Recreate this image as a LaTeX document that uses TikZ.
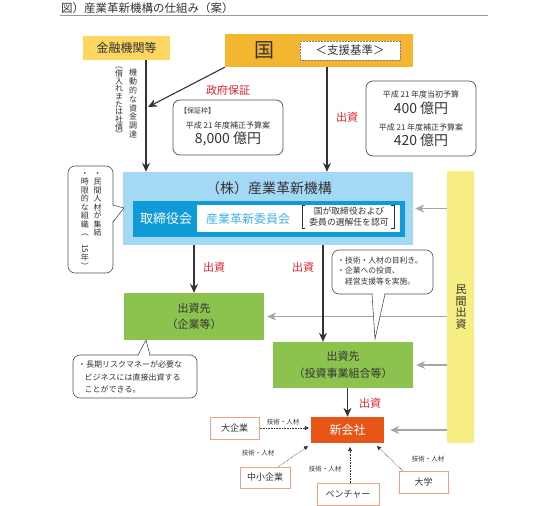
\documentclass[tikz,border=0pt]{standalone}
\usepackage{fontspec}
\setmainfont{Noto Sans CJK JP}
\usetikzlibrary{arrows.meta,calc}
\definecolor{txt}{HTML}{333333}
\definecolor{kinyuc}{HTML}{FDD561}
\definecolor{kunic}{HTML}{F4B530}
\definecolor{lblue}{HTML}{A3D9F5}
\definecolor{dblue}{HTML}{0E9BD8}
\definecolor{tblue}{HTML}{43B1E6}
\definecolor{greenc}{HTML}{8CC34F}
\definecolor{ybarc}{HTML}{F6EE82}
\definecolor{redt}{HTML}{E6212C}
\definecolor{orangec}{HTML}{E85617}
\definecolor{salmon}{HTML}{F1A184}
\definecolor{garrow}{HTML}{A6A6A6}
\newcommand\fz[2]{\fontsize{#1}{#2}\selectfont}
\tikzset{
  every node/.style={text=txt, inner sep=0pt},
  darr/.style={draw=txt, line width=1.1pt, -{Stealth[length=9pt,width=8pt]}},
  garr/.style={draw=garrow, line width=1.1pt, -{Stealth[length=9pt,width=8pt]}},
  dotarr/.style={draw=txt, densely dotted, line width=0.6pt, -{Triangle[length=4pt,width=4pt]}},
  callbox/.style={draw=txt!85, fill=white, rounded corners=7pt, line width=0.6pt},
  callline/.style={draw=txt!85, line width=0.6pt},
  redlbl/.style={text=redt, font=\fz{11}{11}},
  smallbox/.style={draw=salmon, line width=1pt, fill=white, font=\fz{9}{9}},
  greenbox/.style={fill=greenc, minimum width=140pt, align=center, font=\fz{11}{16.5}},
  infobox/.style={draw=txt!85, rounded corners=7pt, line width=0.7pt, fill=white},
  lbltiny/.style={font=\fz{6.5}{6.5}},
  vcol/.style={align=center, anchor=north, font=\fz{8}{#1}},
}
\begin{document}
\begin{tikzpicture}[x=1pt,y=-1pt]
\useasboundingbox (0,0) rectangle (550,506);

% title
\node[anchor=west, font=\fz{11.5}{11.5}] (title) at (61,8) {図）産業革新機構の仕組み（案）};
\draw[draw=gray!80, line width=0.9pt] (60,15) -- (488,15);

% top boxes
\node[fill=kinyuc, minimum width=87pt, minimum height=24pt, font=\fz{12}{12}] (kinyu) at (126.5,48) {金融機関等};
\node[fill=kunic, minimum width=188pt, minimum height=33pt] (kuni) at (319,50.5) {};
\node[font=\fz{20}{20}] (kunit) at (264,50) {国};
\node[fill=white, draw=gray, densely dotted, line width=0.5pt, minimum width=100pt, minimum height=19pt, font=\fz{11.5}{11.5}] (shien) at (350,50.5) {＜支援基準＞};

% info boxes
\node[infobox, minimum width=110pt, minimum height=55pt] (hosho) at (228,127.5) {};
\node[anchor=west, font=\fz{7}{7}] (hosho1) at (180,111) {【保証枠】};
\node[font=\fz{8}{8}] (hosho2) at (228,125) {平成 21 年度補正予算案};
\node[font=\fz{14}{14}] (hosho3) at (228,139) {8,000 億円};

\node[infobox, minimum width=110pt, minimum height=75pt] (yosan) at (421,118.5) {};
\node[font=\fz{8}{8}] (yosan1) at (421,94) {平成 21 年度当初予算};
\node[font=\fz{14}{14}] (yosan2) at (421,108) {400 億円};
\node[font=\fz{8}{8}] (yosan3) at (421,127) {平成 21 年度補正予算案};
\node[font=\fz{14}{14}] (yosan4) at (421,140) {420 億円};

% vertical text by kinyu arrow
\node[vcol=8.8] (kv1) at (133,69) {機\\動\\的\\な\\資\\金\\調\\達};
\node[vcol=7.7] (kv2) at (119,67) {︵\\借\\入\\れ\\ま\\た\\は\\社\\債\\︶};

% kabu box
\node[fill=lblue, minimum width=290pt, minimum height=73pt] (kabu) at (268,208.5) {};
\node[font=\fz{14}{14}] (kabut) at (269,188) {（株）産業革新機構};
\node[fill=dblue, minimum width=272pt, minimum height=36pt] (inner) at (269,219) {};
\node[text=white, font=\fz{13}{13}] (torishimari) at (166,218.5) {取締役会};
\node[fill=white, minimum width=203pt, minimum height=27pt] (wbox) at (298.5,218.5) {};
\node[text=tblue, font=\fz{12}{12}] (iinkai) at (248,218.5) {産業革新委員会};
\node[align=center, font=\fz{8.8}{10.5}] (bt) at (349,216.5) {国が取締役および\\委員の選解任を認可};
\draw[txt, line width=0.6pt] (305,205) -- (302,205) -- (302,228) -- (305,228);
\draw[txt, line width=0.6pt] (391,205) -- (394,205) -- (394,228) -- (391,228);

% yellow bar
\node[fill=ybarc, minimum width=27pt, minimum height=272pt] (ybar) at (460.5,307) {};
\node[align=center, font=\fz{11}{11.5}] (ybart) at (461,307) {民\\間\\出\\資};

% green boxes
\node[greenbox, minimum height=47pt] (green1) at (194,316.5) {出資先\\（企業等）};
\node[greenbox, minimum height=46pt] (green2) at (343,365) {出資先\\（投資事業組合等）};

% new company and partners
\node[fill=orangec, minimum width=73pt, minimum height=26pt, text=white, font=\fz{12}{12}] (shin) at (347.5,430) {新会社};
\node[smallbox, minimum width=49pt, minimum height=22pt] (daikigyo) at (234.5,428) {大企業};
\node[smallbox, minimum width=50pt, minimum height=21pt] (chusho) at (265,477.5) {中小企業};
\node[smallbox, minimum width=62pt, minimum height=22pt] (venture) at (348,494) {ベンチャー};
\node[smallbox, minimum width=49pt, minimum height=22pt] (daigaku) at (423.5,482) {大学};

% gray arrows from private investment
\draw[garr] (ybar.west |- kabu.east) -- ([xshift=2pt]kabu.east);
\draw[garr] (ybar.west |- green1.east) -- ([xshift=3pt]green1.east);
\draw[garr] (ybar.west |- green2.east) -- ([xshift=3pt]green2.east);
\draw[garr] (ybar.west |- shin.east) -- ([xshift=6pt]shin.east);

% dark arrows
\coordinate (g) at (148,107);
\draw[darr] ([xshift=19.5pt]kinyu.south) -- ([xshift=19.5pt]kinyu.south |- kabu.north);
\draw[darr] (kuni.south west) -- (g);
\draw[darr] ([xshift=8pt]kuni.south) -- ([xshift=8pt]kuni.south |- kabu.north);
\draw[darr] (green1.north |- kabu.south) -- (green1.north);
\draw[darr] ([xshift=-20pt]green2.north |- kabu.south) -- ([xshift=-20pt]green2.north);
\draw[darr] (green2.south -| shin.north) -- (shin.north);

% red labels
\node[redlbl] (l1) at (228,90) {政府保証};
\node[redlbl] (l2) at (347,117) {出資};
\node[redlbl] (l3) at (214,267) {出資};
\node[redlbl] (l4) at (303,267) {出資};
\node[redlbl] (l5) at (370,403) {出資};

% dotted arrows
\coordinate (c1) at (278,467);
\coordinate (c2) at (308,446);
\coordinate (c3) at (350,483);
\coordinate (c4) at (350,447);
\coordinate (c5) at (403,471);
\coordinate (c6) at (377,446);
\draw[dotarr] (daikigyo.east) -- ([xshift=-2pt]shin.west |- daikigyo.east);
\draw[dotarr] (c1) -- (c2);
\draw[dotarr] (c3) -- (c4);
\draw[dotarr] (c5) -- (c6);
\node[lbltiny] (d1) at (283,422) {技術・人材};
\node[lbltiny] (d2) at (258,453) {技術・人材};
\node[lbltiny] (d3) at (325,469) {技術・人材};
\node[lbltiny] (d4) at (428,459) {技術・人材};

% left callout
\node[callbox, minimum width=45pt, minimum height=107pt] (lc) at (90.5,219.5) {};
\fill[white] (112,205.5) -- (123.5,208) -- (112,221.5) -- cycle;
\draw[callline] (113,205) -- (124,208) -- (113,222);
\node[vcol=8.5] (lcv1) at (97.5,172) {・\\民\\間\\人\\材\\が\\集\\結};
\node[vcol=8.5] (lcv2) at (85,172) {・\\時\\限\\的\\な\\組\\織\\︵\\\rotatebox{-90}{15}\\年\\︶};

% bottom-left callout
\node[callbox, minimum width=124pt, minimum height=43pt] (bc) at (135,376.5) {};
\fill[white] (138.5,356) -- (146,340.5) -- (149.5,356) -- cycle;
\draw[callline] (138,355) -- (146,340) -- (150,355);
\node[anchor=north west, align=left, font=\fz{8}{12.3}] (bct) at (78,361) {・長期リスクマネーが必要な\\\hspace*{6.5pt}ビジネスには直接出資する\\\hspace*{6.5pt}ことができる。};

% right callout
\node[callbox, minimum width=101pt, minimum height=44pt] (rc) at (382.5,272) {};
\fill[white] (372.5,293) -- (375,338) -- (384.5,293) -- cycle;
\draw[callline] (372,294) -- (375,339) -- (385,294);
\node[anchor=north west, align=left, font=\fz{7.8}{10.5}] (rct) at (337,256.5) {・技術・人材の目利き。\\・企業への投資、\\\hspace*{7.8pt}経営支援等を実施。};

\end{tikzpicture}
\end{document}
